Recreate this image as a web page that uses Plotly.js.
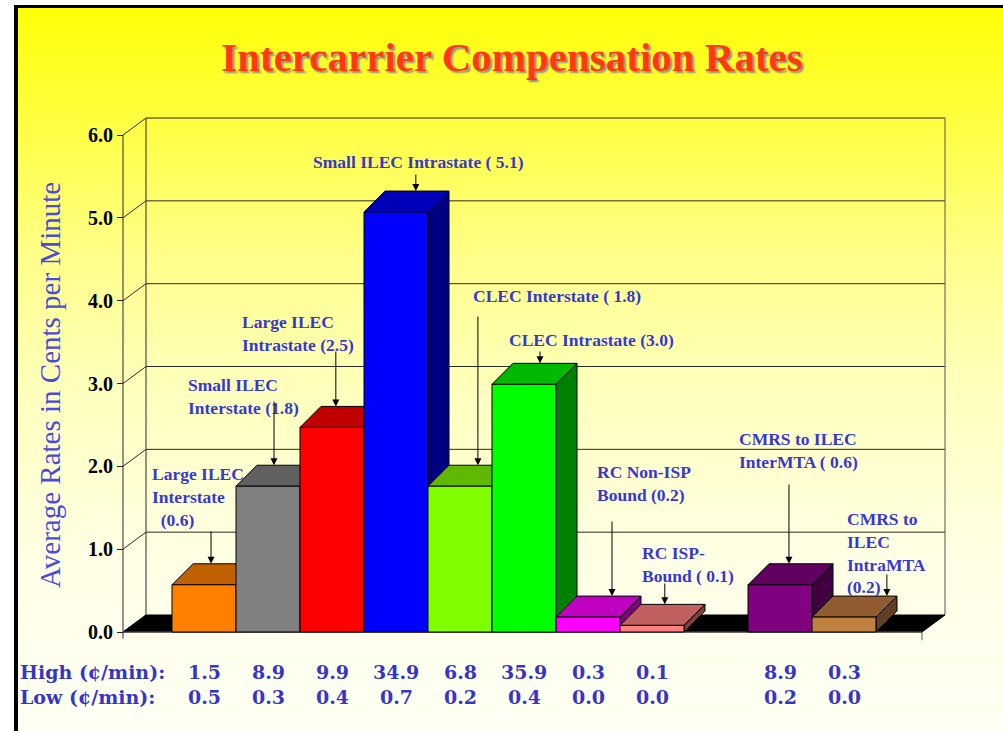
<!DOCTYPE html>
<html><head><meta charset="utf-8">
<script src="https://cdn.plot.ly/plotly-3.0.1.min.js"></script>
<style>
html,body{margin:0;padding:0;background:#fff;width:1003px;height:731px;overflow:hidden;}
#frame{position:absolute;left:14px;top:5px;width:1000px;height:740px;border-left:4px solid #000;border-top:3px solid #000;
background:linear-gradient(to bottom,#ffff08 0%,#ffff40 15%,#ffff8c 34%,#ffffbe 52%,#ffffe6 75%,#fffff6 100%);}
#chart{position:absolute;left:0;top:0;width:1003px;height:731px;}
</style></head><body>
<div id="frame"></div><div id="chart"></div>
<script>
// ---------------- data ----------------
const categories = ["Large ILEC Interstate","Small ILEC Interstate","Large ILEC Intrastate","Small ILEC Intrastate",
  "CLEC Interstate","CLEC Intrastate","RC Non-ISP Bound","RC ISP-Bound","CMRS to ILEC InterMTA","CMRS to ILEC IntraMTA"];
const positions = [0,1,2,3,4,5,6,7,9,10];
const values = [0.57,1.76,2.47,5.07,1.76,2.99,0.18,0.08,0.57,0.18];
const labelTexts = ["Large ILEC<br>Interstate<br>\u00a0\u00a0(0.6)","Small ILEC<br>Interstate (1.8)","Large ILEC<br>Intrastate (2.5)",
  "Small ILEC Intrastate ( 5.1)","CLEC Interstate ( 1.8)","CLEC Intrastate (3.0)","RC Non-ISP<br>Bound (0.2)",
  "RC ISP-<br>Bound ( 0.1)","CMRS to ILEC<br>InterMTA ( 0.6)","CMRS to<br>ILEC<br>IntraMTA<br>(0.2)"];
const highRates = ["1.5","8.9","9.9","34.9","6.8","35.9","0.3","0.1","8.9","0.3"];
const lowRates  = ["0.5","0.3","0.4","0.7","0.2","0.4","0.0","0.0","0.2","0.0"];
const yTicks = [0,1,2,3,4,5,6];

// ---------------- styles ----------------
const frontColors = ["#FF8000","#7F807F","#FF0000","#0000FF","#80FF00","#00FF00","#FF00FF","#FF8080","#800080","#C08040"];
const topColors   = ["#C06000","#606060","#C00000","#0000B8","#60B800","#00B800","#C000C0","#C06060","#600060","#905C30"];
const sideColors  = ["#804000","#404040","#800000","#000080","#408000","#008000","#800080","#804040","#400040","#604020"];

// ---------------- layout geometry (pixels) ----------------
const PL=110, PR=950, PT=110, PB=645;
const X0PX=204, XU=64, Y0PX=632, YU=82.83;
const X = px => (px - X0PX) / XU;
const Y = py => (Y0PX - py) / YU;
const PX = px => (px - PL) / (PR - PL);
const PY = py => (PB - py) / (PB - PT);
const barDX = 21/XU, barDY = 21/YU;      // bar depth
const wallDX = 23/XU, wallDY = 17/YU;    // wall depth
const xL = X(123), xR = X(922);
const gridCol = "#2a2a2a";

const shapes = [];
const S = o => { o.layer = "below"; o.xref = "x"; o.yref = "y"; shapes.push(o); };
// back wall grid lines
yTicks.forEach(k => {
  if (k > 0) S({type:"line", x0:xL+wallDX, x1:xR+wallDX, y0:k+wallDY, y1:k+wallDY, line:{color:gridCol,width:1}});
  S({type:"line", x0:xL, x1:xL+wallDX, y0:k, y1:k+wallDY, line:{color:gridCol,width:1}});
});
const yTop = yTicks[yTicks.length-1];
S({type:"line", x0:xL+wallDX, x1:xL+wallDX, y0:wallDY, y1:yTop+wallDY, line:{color:gridCol,width:1}});
S({type:"line", x0:xR+wallDX, x1:xR+wallDX, y0:wallDY, y1:yTop+wallDY, line:{color:"#555",width:1}});
// front axis line
S({type:"line", x0:xL, x1:xL, y0:-0.08, y1:yTop, line:{color:gridCol,width:1}});
// floor
S({type:"path", path:`M${xL},0 L${xR},0 L${xR+wallDX},${wallDY} L${xL+wallDX},${wallDY} Z`, fillcolor:"#000", line:{color:"#000",width:1}});
S({type:"line", x0:xL, x1:xR, y0:0, y1:0, line:{color:"#555",width:1}});
S({type:"line", x0:xR, x1:xR, y0:0, y1:-0.1, line:{color:"#555",width:1}});
// 3D faces of bars
positions.forEach((p,i) => {
  const l = p-0.5, r = p+0.5, v = values[i];
  S({type:"path", fillcolor:sideColors[i], line:{color:"#000",width:1},
    path:`M${r},0 L${r+barDX},${barDY} L${r+barDX},${v+barDY} L${r},${v} Z`});
  S({type:"path", fillcolor:topColors[i], line:{color:"#000",width:1},
    path:`M${l},${v} L${l+barDX},${v+barDY} L${r+barDX},${v+barDY} L${r},${v} Z`});
});

// ---------------- annotations ----------------
const labelFont = {family:"Liberation Serif", size:17.5, color:"#3838D0"};
const labelPos = [[150,462],[186,373],[240,310],[311,150],[471,284],[507,328],[595,460],[640,541],[737,427],[845,507]];
const arrowDX = [0.11,0.094,0.06,0.31,0.28,0.25,0.375,0.2,0.14,0.67];
const arrowTail = [530,400,350,173,315,350,520,582,483,573];
const annotations = [];
labelTexts.forEach((t,i) => {
  annotations.push({xref:"paper", yref:"paper", x:PX(labelPos[i][0]), y:PY(labelPos[i][1]), xanchor:"left", yanchor:"top",
    align:"left", text:"<b>"+t+"</b>", showarrow:false, font:labelFont});
  const hx = positions[i] + arrowDX[i];
  annotations.push({xref:"x", yref:"y", axref:"x", ayref:"y", x:hx, y:values[i]+barDY, ax:hx, ay:Y(arrowTail[i]),
    text:"", showarrow:true, arrowhead:2, arrowsize:1.4, arrowwidth:1, arrowcolor:"#000", standoff:0, startstandoff:0});
});
const tableFont = {family:"DejaVu Serif", size:19, color:"#3535C8"};
annotations.push({xref:"paper", yref:"paper", x:PX(18), y:PY(672), xanchor:"left", yanchor:"middle", text:"<b>High (¢/min):</b>", showarrow:false, font:tableFont});
annotations.push({xref:"paper", yref:"paper", x:PX(18), y:PY(697), xanchor:"left", yanchor:"middle", text:"<b>Low (¢/min):</b>", showarrow:false, font:tableFont});
positions.forEach((p,i) => {
  annotations.push({xref:"x", yref:"paper", x:p, y:PY(672), xanchor:"center", yanchor:"middle", text:"<b>"+highRates[i]+"</b>", showarrow:false, font:tableFont});
  annotations.push({xref:"x", yref:"paper", x:p, y:PY(697), xanchor:"center", yanchor:"middle", text:"<b>"+lowRates[i]+"</b>", showarrow:false, font:tableFont});
});
annotations.push({xref:"paper", yref:"paper", x:PX(50), y:PY(385), xanchor:"center", yanchor:"middle", textangle:-90,
  text:"Average Rates in Cents per Minute", showarrow:false, font:{family:"Liberation Serif", size:29, color:"#4A4ADE"}});

const trace = {type:"bar", x:positions, y:values, width:1, hovertext:categories, hoverinfo:"text+y", textposition:"none",
  marker:{color:frontColors, line:{color:"#000", width:1}}};

const layout = {
  width:1003, height:731,
  margin:{l:PL, r:1003-PR, t:PT, b:731-PB, pad:0},
  paper_bgcolor:"rgba(0,0,0,0)", plot_bgcolor:"rgba(0,0,0,0)",
  showlegend:false, bargap:0,
  title:{text:"<b>Intercarrier Compensation Rates</b>", xref:"container", yref:"container", x:512/1003, y:1-57/731,
    xanchor:"center", yanchor:"middle",
    font:{family:"Liberation Serif", size:41, color:"#FF3A0A", shadow:"2px 2px 2px #8a8a8a"}},
  xaxis:{range:[X(PL),X(PR)], showgrid:false, zeroline:false, showticklabels:false, ticks:"", showline:false, fixedrange:true},
  yaxis:{range:[Y(PB),Y(PT)], anchor:"free", position:PX(123), tickvals:yTicks, tickformat:".1f", ticks:"outside", ticklen:6,
    tickcolor:"#222", showgrid:false, zeroline:false, showline:false,
    tickfont:{family:"Liberation Serif", size:20, color:"#000", weight:"bold"}, fixedrange:true},
  shapes:shapes, annotations:annotations
};
Plotly.newPlot("chart",[trace],layout,{displayModeBar:false, staticPlot:true});
</script>
</body></html>
